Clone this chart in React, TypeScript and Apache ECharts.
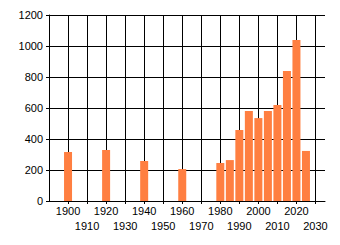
import React, { useEffect, useRef } from "react";
import * as echarts from "echarts";

const years = [1900, 1920, 1940, 1960, 1980, 1985, 1990, 1995, 2000, 2005, 2010, 2015, 2020, 2025];
const values = [316, 329, 258, 206, 245, 264, 458, 581, 535, 581, 619, 839, 1039, 323];
const yTicks = [0, 200, 400, 600, 800, 1000, 1200];

export default function App() {
  const ref = useRef<HTMLDivElement>(null);
  useEffect(() => {
    const chart = echarts.init(ref.current!, null, { renderer: "svg" });
    const font = "Liberation Sans";
    chart.setOption({
      animation: false,
      grid: { left: 49, top: 15, right: 15, bottom: 44 },
      xAxis: {
        type: "value",
        min: 1890,
        max: 2035,
        interval: 10,
        axisLine: { show: true, lineStyle: { color: "#000", width: 1 } },
        axisTick: { show: true, length: 3, lineStyle: { color: "#000" } },
        splitLine: { show: true, showMinLine: false, showMaxLine: false, lineStyle: { color: "#000", width: 1 } },
        axisLabel: {
          margin: 2,
          color: "#000",
          fontFamily: font,
          fontSize: 11,
          lineHeight: 15,
          showMinLabel: false,
          showMaxLabel: false,
          formatter: (v: number) => {
            if (v === 1890 || v === 2035) return "";
            return ((v - 1900) / 10) % 2 === 0 ? String(v) : "\n" + v;
          },
        },
      },
      yAxis: {
        type: "value",
        min: yTicks[0],
        max: yTicks[yTicks.length - 1],
        interval: 200,
        axisLine: { show: true, lineStyle: { color: "#000", width: 1 } },
        axisTick: { show: true, length: 3, lineStyle: { color: "#000" } },
        splitLine: { show: true, lineStyle: { color: "#000", width: 1 } },
        axisLabel: { margin: 6, color: "#000", fontFamily: font, fontSize: 11, formatter: (v: number) => String(v) },
      },
      series: [
        {
          type: "bar",
          barWidth: 8,
          itemStyle: { color: "#ff7f41" },
          data: years.map((y, i) => [y, values[i]]),
        },
      ],
    });
    return () => chart.dispose();
  }, []);
  return <div ref={ref} style={{ position: "absolute", left: 0, top: 0, width: 340, height: 245 }} />;
}
